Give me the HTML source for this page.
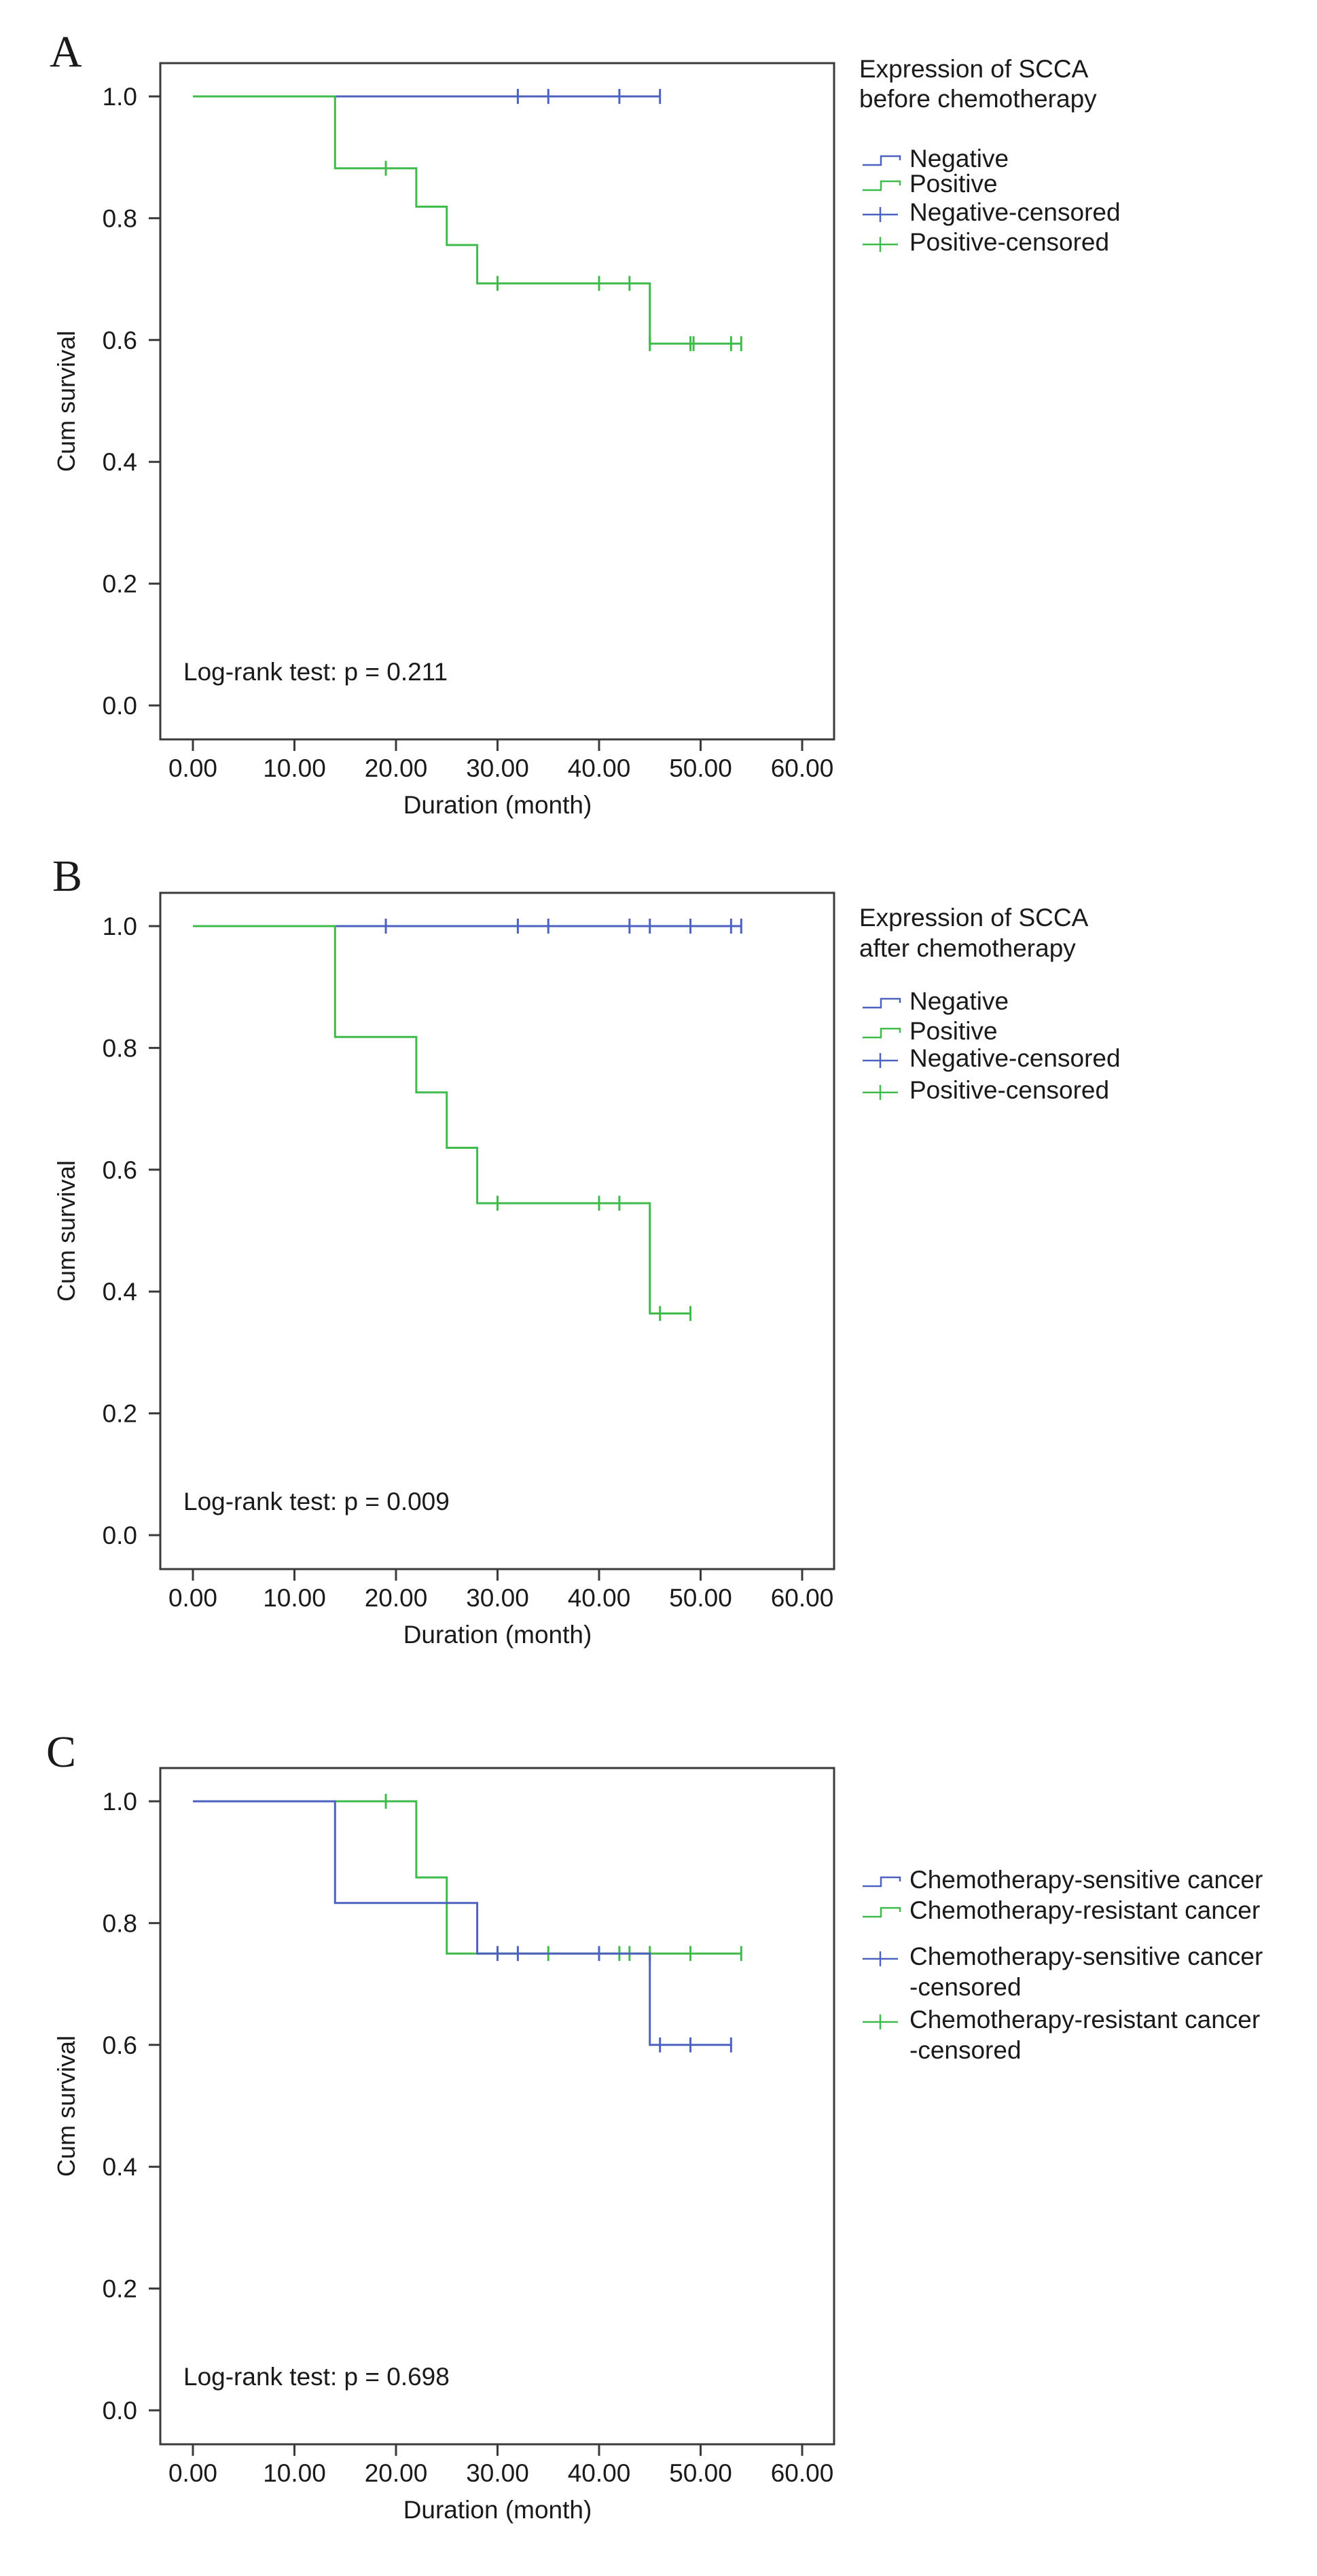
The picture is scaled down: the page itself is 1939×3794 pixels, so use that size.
<!DOCTYPE html>
<html>
<head>
<meta charset="utf-8">
<style>
html,body{margin:0;padding:0;background:#fff;}
svg{display:block;}
text{font-family:"Liberation Sans",Arial,sans-serif;fill:#1a1a1a;}
.letter{font-family:"Liberation Serif",serif;}
</style>
</head>
<body>
<svg id="fig" width="1939" height="3794" viewBox="0 0 1939 3794" xmlns="http://www.w3.org/2000/svg"></svg>
<script>
// ---- shared axis data ----
const xTicks = [0, 10, 20, 30, 40, 50, 60];
const xTickLabels = ["0.00", "10.00", "20.00", "30.00", "40.00", "50.00", "60.00"];
const yTicks = [0, 0.2, 0.4, 0.6, 0.8, 1.0];
const yTickLabels = ["0.0", "0.2", "0.4", "0.6", "0.8", "1.0"];

// ---- Panel A ----
const aNegTimes = [0, 46];
const aNegSurv = [1.0];
const aNegCens = [32, 35, 42, 46];
const aPosTimes = [0, 14, 22, 25, 28, 45, 54];
const aPosSurv = [1.0, 0.882, 0.819, 0.756, 0.693, 0.594];
const aPosCens = [19, 30, 40, 43, 45, 49, 49.3, 53, 54];
const aPosCensSurv = [0.882, 0.693, 0.693, 0.693, 0.594, 0.594, 0.594, 0.594, 0.594];
const aLegendTitle = ["Expression of SCCA", "before chemotherapy"];
const aLogRank = "Log-rank test: p = 0.211";

// ---- Panel B ----
const bNegTimes = [0, 54];
const bNegSurv = [1.0];
const bNegCens = [19, 32, 35, 43, 45, 49, 53, 54];
const bPosTimes = [0, 14, 22, 25, 28, 45, 49];
const bPosSurv = [1.0, 0.818, 0.727, 0.636, 0.545, 0.364];
const bPosCens = [30, 40, 42, 46, 49];
const bPosCensSurv = [0.545, 0.545, 0.545, 0.364, 0.364];
const bLegendTitle = ["Expression of SCCA", "after chemotherapy"];
const bLogRank = "Log-rank test: p = 0.009";

// ---- Panel C ----
const cSensTimes = [0, 14, 28, 45, 53];
const cSensSurv = [1.0, 0.833, 0.75, 0.6];
const cSensCens = [30, 32, 40, 46, 49, 53];
const cSensCensSurv = [0.75, 0.75, 0.75, 0.6, 0.6, 0.6];
const cResTimes = [0, 22, 25, 54];
const cResSurv = [1.0, 0.875, 0.75];
const cResCens = [19, 35, 42, 43, 45, 49, 54];
const cResCensSurv = [1.0, 0.75, 0.75, 0.75, 0.75, 0.75, 0.75];
const cLogRank = "Log-rank test: p = 0.698";

const BLUE = "#4d62c0", GREEN = "#3fbb4b";
const NS = "http://www.w3.org/2000/svg";
const svg = document.getElementById("fig");

function el(tag, attrs, parent) {
  const e = document.createElementNS(NS, tag);
  for (const k in attrs) e.setAttribute(k, attrs[k]);
  (parent || svg).appendChild(e);
  return e;
}
function txt(str, x, y, size, anchor, parent, cls) {
  const t = el("text", {x: x, y: y, "font-size": size, "text-anchor": anchor || "start"}, parent);
  if (cls) t.setAttribute("class", cls);
  t.textContent = str;
  return t;
}

const BOX_L = 236, BOX_R = 1228, X0 = 284, PX_PER_MONTH = 14.95;
function xs(v) { return X0 + v * PX_PER_MONTH; }

function panel(opt) {
  const g = el("g", {});
  
  
  const top = opt.top, bottom = opt.top + 996;
  const y1 = top + 49, y0 = top + 946;
  const ys = v => y0 - v * (y0 - y1);

  const letter = txt(opt.letter, opt.letterX, opt.letterY, 66, "start", g, "letter");
  
  

  const box = el("rect", {x: BOX_L, y: top, width: BOX_R - BOX_L, height: bottom - top, fill: "none", stroke: "#3a3a3a", "stroke-width": 3}, g);
  
  

  // y axis
  const yAxis = el("g", {}, g);
  
  
  yTicks.forEach((v, i) => {
    el("line", {x1: BOX_L - 17, x2: BOX_L, y1: ys(v), y2: ys(v), stroke: "#3a3a3a", "stroke-width": 3}, yAxis);
    const t = txt(yTickLabels[i], 202, ys(v) + 13, 37, "end", yAxis);
    
    
  });
  const yt = txt("Cum survival", 0, 0, 36, "middle", g);
  yt.setAttribute("transform", "translate(110," + ((top + bottom) / 2) + ") rotate(-90)");
  
  

  // x axis
  const xAxis = el("g", {}, g);
  
  
  xTicks.forEach((v, i) => {
    el("line", {x1: xs(v), x2: xs(v), y1: bottom, y2: bottom + 17, stroke: "#3a3a3a", "stroke-width": 3}, xAxis);
    const t = txt(xTickLabels[i], xs(v), bottom + 55, 37, "middle", xAxis);
    
    
  });
  const xt = txt("Duration (month)", xs(30), bottom + 109, 37, "middle", g);
  
  

  // curves
  opt.series.forEach(s => {
    let d = "M" + xs(s.times[0]) + "," + ys(s.surv[0]);
    for (let i = 1; i < s.times.length; i++) {
      const prev = s.surv[i - 1];
      d += " L" + xs(s.times[i]) + "," + ys(prev);
      if (i < s.surv.length) d += " L" + xs(s.times[i]) + "," + ys(s.surv[i]);
    }
    const p = el("path", {d: d, fill: "none", stroke: s.color, "stroke-width": 3}, g);
    
    
    s.cens.forEach((c, i) => {
      const cy = ys(s.censSurv ? s.censSurv[i] : s.surv[s.surv.length - 1]);
      const m = el("line", {x1: xs(c), x2: xs(c), y1: cy - 11, y2: cy + 11, stroke: s.color, "stroke-width": 3}, g);
      
      
    });
  });

  const lr = txt(opt.logRank, 270, y0 - 37, 37, "start", g);
  
  

  // legend
  const lg = el("g", {}, g);
  
  
  (opt.legendTitle || []).forEach((s, i) => {
    const t = txt(s, 1265, opt.titleY[i], 37, "start", lg);
    
    
  });
  opt.legend.forEach(it => {
    const by = it.y - 9;
    if (it.type === "step") {
      const sp = el("path", {d: "M1270," + (by + 6) + " L1297," + (by + 6) + " L1297," + (by - 7) + " L1325," + (by - 7) + " L1325," + (by - 1), fill: "none", stroke: it.color, "stroke-width": 2.5}, lg);
      
      
    } else {
      const cg = el("g", {}, lg);
      
      
      el("line", {x1: 1270, x2: 1322, y1: by, y2: by, stroke: it.color, "stroke-width": 2.5}, cg);
      el("line", {x1: 1296, x2: 1296, y1: by - 11, y2: by + 11, stroke: it.color, "stroke-width": 2.5}, cg);
    }
    it.lines.forEach((s, j) => {
      const t = txt(s, 1339, it.y + j * 45, 37, "start", lg);
      
      
    });
  });
}

panel({
  name: "panel-a", letter: "A", letterX: 73, letterY: 98, top: 93,
  series: [
    {name: "negative", color: BLUE, times: aNegTimes, surv: aNegSurv, cens: aNegCens},
    {name: "positive", color: GREEN, times: aPosTimes, surv: aPosSurv, cens: aPosCens, censSurv: aPosCensSurv}
  ],
  logRank: aLogRank, legendTitle: aLegendTitle, titleY: [114, 158],
  legend: [
    {type: "step", color: BLUE, y: 246, lines: ["Negative"]},
    {type: "step", color: GREEN, y: 283, lines: ["Positive"]},
    {type: "cross", color: BLUE, y: 325, lines: ["Negative-censored"]},
    {type: "cross", color: GREEN, y: 369, lines: ["Positive-censored"]}
  ]
});

panel({
  name: "panel-b", letter: "B", letterX: 77, letterY: 1312, top: 1315,
  series: [
    {name: "negative", color: BLUE, times: bNegTimes, surv: bNegSurv, cens: bNegCens},
    {name: "positive", color: GREEN, times: bPosTimes, surv: bPosSurv, cens: bPosCens, censSurv: bPosCensSurv}
  ],
  logRank: bLogRank, legendTitle: bLegendTitle, titleY: [1364, 1409],
  legend: [
    {type: "step", color: BLUE, y: 1487, lines: ["Negative"]},
    {type: "step", color: GREEN, y: 1531, lines: ["Positive"]},
    {type: "cross", color: BLUE, y: 1571, lines: ["Negative-censored"]},
    {type: "cross", color: GREEN, y: 1618, lines: ["Positive-censored"]}
  ]
});

panel({
  name: "panel-c", letter: "C", letterX: 68, letterY: 2602, top: 2604,
  series: [
    {name: "resistant", color: GREEN, times: cResTimes, surv: cResSurv, cens: cResCens, censSurv: cResCensSurv},
    {name: "sensitive", color: BLUE, times: cSensTimes, surv: cSensSurv, cens: cSensCens, censSurv: cSensCensSurv}
  ],
  logRank: cLogRank, legendTitle: [], titleY: [],
  legend: [
    {type: "step", color: BLUE, y: 2781, lines: ["Chemotherapy-sensitive cancer"]},
    {type: "step", color: GREEN, y: 2826, lines: ["Chemotherapy-resistant cancer"]},
    {type: "cross", color: BLUE, y: 2894, lines: ["Chemotherapy-sensitive cancer", "-censored"]},
    {type: "cross", color: GREEN, y: 2987, lines: ["Chemotherapy-resistant cancer", "-censored"]}
  ]
});
</script>
</body>
</html>
